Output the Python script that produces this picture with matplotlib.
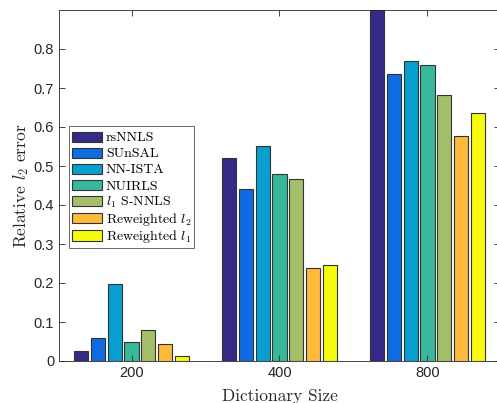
import matplotlib.pyplot as plt
from matplotlib.patches import Rectangle
from matplotlib.container import BarContainer
from matplotlib.legend_handler import HandlerPatch
import numpy as np

plt.rcParams['mathtext.fontset'] = 'cm'
plt.rcParams['axes.formatter.use_mathtext'] = True

# Data
sizes = ['200', '400', '800']
methods = ['rsNNLS', 'SUnSAL', 'NN-ISTA', 'NUIRLS', r'$l_1$ S-NNLS',
           r'Reweighted $l_2$', r'Reweighted $l_1$']
errors = [
    [0.026, 0.520, 0.950],   # rsNNLS
    [0.059, 0.440, 0.736],   # SUnSAL
    [0.197, 0.550, 0.768],   # NN-ISTA
    [0.049, 0.480, 0.758],   # NUIRLS
    [0.079, 0.467, 0.681],   # l1 S-NNLS
    [0.043, 0.238, 0.577],   # Reweighted l2
    [0.013, 0.246, 0.635],   # Reweighted l1
]
colors = ['#352A87', '#0F6CE0', '#089FD0', '#38B89B', '#A5BE6A', '#FDBA3C', '#F8FA0E']


# legend swatch smaller than the row, so every row gets the same height
def small_box(legend, orig_handle, xdescent, ydescent, width, height, fontsize):
    return Rectangle((-xdescent, -ydescent + 0.18 * height), width, 0.64 * height)


def from_first_bar(legend_patch, orig_handle):
    legend_patch.update_from(orig_handle.patches[0])


fig = plt.figure(figsize=(4.97, 4.03), dpi=100)
ax = fig.add_axes([59 / 497, 42 / 403, 441 / 497, 351 / 403])

x = np.arange(1, len(sizes) + 1)
pitch = 0.1145
width = 0.095
for i, (name, vals) in enumerate(zip(methods, errors)):
    off = (i - 3) * pitch
    ax.bar(x + off, vals, width, color=colors[i], edgecolor='#333333',
           linewidth=0.8, label=name)

ax.set_xlim(0.51, 3.49)
ax.set_ylim(0, 0.9)
ax.set_xticks(x)
ax.set_xticklabels(sizes)
ax.set_yticks(np.arange(0, 0.81, 0.1))
ax.set_yticklabels(['0', '0.1', '0.2', '0.3', '0.4', '0.5', '0.6', '0.7', '0.8'])
ax.tick_params(direction='in', top=True, right=True, length=4, width=0.6,
               labelsize=10.5, colors='#262626')
for lab in ax.get_xticklabels() + ax.get_yticklabels():
    lab.set_family('Liberation Sans')
for s in ax.spines.values():
    s.set_linewidth(0.6)
    s.set_color('#262626')

ax.set_xlabel('Dictionary Size', family='cmr10', fontsize=12.5, color='#262626',
              labelpad=6)
ax.set_ylabel(r'Relative $l_2$ error', family='cmr10', fontsize=12.5,
              color='#262626', labelpad=2)

leg = ax.legend(loc='upper left', bbox_to_anchor=(10 / 441, 1 - 116 / 351),
                prop={'family': 'cmr10', 'size': 10}, frameon=True,
                fancybox=False, edgecolor='#262626', handlelength=2.15,
                handleheight=1.4, handletextpad=0.3, labelspacing=0.0,
                borderpad=0.2, borderaxespad=0,
                handler_map={BarContainer: HandlerPatch(patch_func=small_box,
                                                        update_func=from_first_bar)})
leg.get_frame().set_linewidth(0.6)

fig.savefig('out.png', dpi=100)
